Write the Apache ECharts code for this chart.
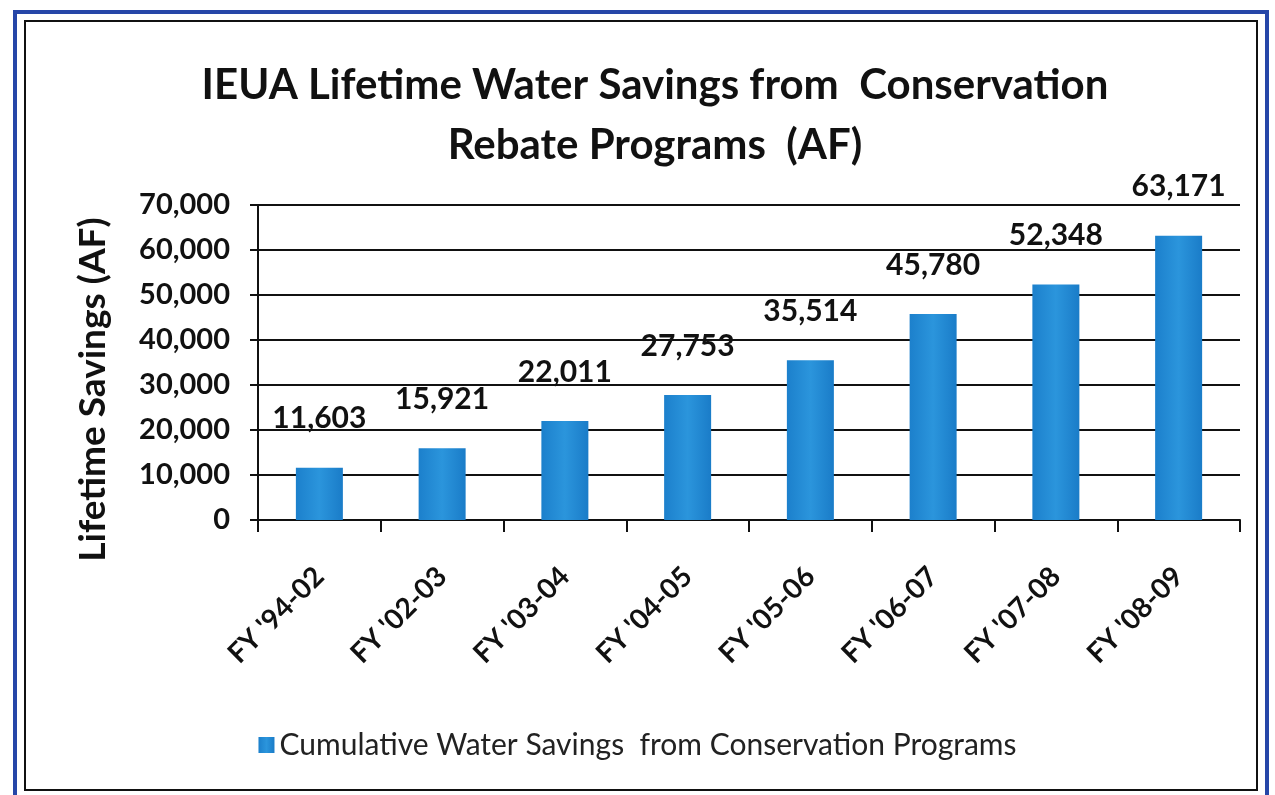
<!DOCTYPE html>
<html>
<head>
<meta charset="utf-8">
<script src="https://cdn.jsdelivr.net/npm/echarts@6/dist/echarts.min.js"></script>
<style>
  html, body { margin: 0; padding: 0; background: #fff; }
  #chart { width: 1275px; height: 795px; }
</style>
</head>
<body>
<div id="chart"></div>
<script>
// data
var categories = ["FY '94-02", "FY '02-03", "FY '03-04", "FY '04-05", "FY '05-06", "FY '06-07", "FY '07-08", "FY '08-09"]
var savings = [11603, 15921, 22011, 27753, 35514, 45780, 52348, 63171]
var seriesName = 'Cumulative Water Savings  from Conservation Programs'

var chart = echarts.init(document.getElementById('chart'))
var font = 'Lato, "Open Sans", sans-serif'

chart.setOption({
  animation: false,
  backgroundColor: '#fff',
  graphic: [
    { type: 'rect', shape: { x: 15, y: 12, width: 1252, height: 790 },
      style: { fill: 'none', stroke: '#2646a8', lineWidth: 4 } },
    { type: 'rect', shape: { x: 25, y: 21, width: 1232, height: 769 },
      style: { fill: 'none', stroke: '#111', lineWidth: 2 } }
  ],
  title: {
    text: 'IEUA Lifetime Water Savings from  Conservation\nRebate Programs  (AF)',
    left: 650,
    top: 50,
    textAlign: 'center',
    textStyle: {
      fontFamily: font,
      fontSize: 42,
      fontWeight: 'bold',
      color: '#111',
      lineHeight: 60
    }
  },
  legend: {
    bottom: 30,
    left: 'center',
    itemWidth: 16,
    itemHeight: 16,
    itemGap: 10,
    icon: 'rect',
    textStyle: { fontFamily: font, fontSize: 30, color: '#222' },
    data: [seriesName]
  },
  grid: {
    left: 258,
    right: 35,
    top: 205,
    bottom: 275
  },
  xAxis: {
    type: 'category',
    data: categories,
    axisLine: { lineStyle: { color: '#111', width: 2 } },
    axisTick: { show: true, length: 12, lineStyle: { color: '#111', width: 2 } },
    axisLabel: {
      rotate: 45,
      margin: 52,
      fontFamily: font,
      fontSize: 28,
      fontWeight: 'bold',
      color: '#111'
    }
  },
  yAxis: {
    type: 'value',
    min: 0,
    max: 70000,
    interval: 10000,
    name: 'Lifetime Savings (AF)',
    nameLocation: 'middle',
    nameGap: 146,
    nameTextStyle: {
      fontFamily: font,
      fontSize: 37,
      fontWeight: 'bold',
      color: '#111',
      padding: [0, 54, 0, 0]
    },
    axisLine: { show: true, lineStyle: { color: '#111', width: 2 } },
    axisTick: { show: true, length: 8, lineStyle: { color: '#111', width: 2 } },
    axisLabel: {
      margin: 28,
      fontFamily: font,
      fontSize: 29,
      fontWeight: 'bold',
      color: '#111',
      formatter: function(v) {
        return v.toLocaleString('en-US')
      }
    },
    splitLine: { lineStyle: { color: '#111', width: 2 } }
  },
  series: [{
    name: seriesName,
    type: 'bar',
    barWidth: 47,
    data: savings,
    itemStyle: {
      color: new echarts.graphic.LinearGradient(0, 0, 1, 0, [
        { offset: 0, color: '#1c80cc' },
        { offset: 0.5, color: '#2b95dc' },
        { offset: 1, color: '#1a7cc8' }
      ])
    },
    label: {
      show: true,
      position: 'top',
      distance: 34,
      fontFamily: font,
      fontSize: 30,
      fontWeight: 'bold',
      color: '#111',
      formatter: function(p) {
        return p.value.toLocaleString('en-US')
      }
    }
  }]
})
</script>
</body>
</html>
